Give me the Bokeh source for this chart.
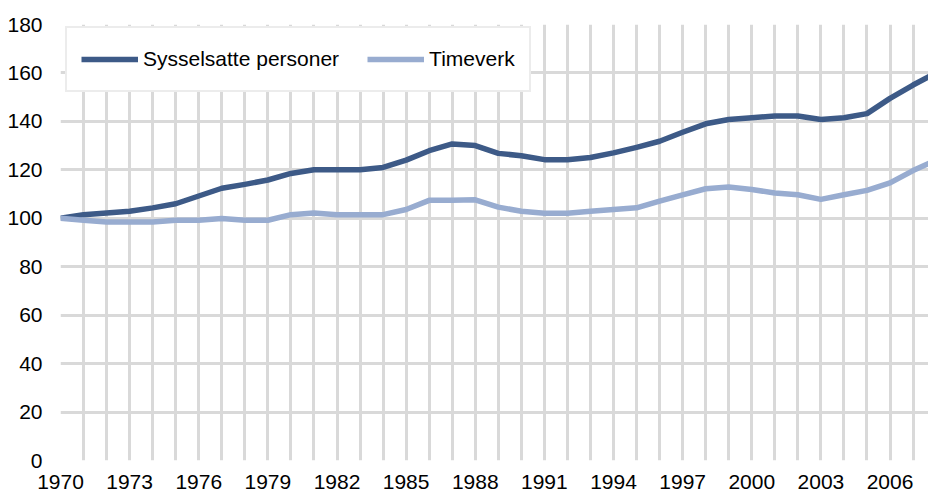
from bokeh.plotting import figure
from bokeh.models import Range1d, SingleIntervalTicker, FixedTicker, Legend, LegendItem
from bokeh.embed import file_html
from bokeh.resources import INLINE

years = list(range(1970, 2009))
sysselsatte = [100, 101.5, 102.2, 102.9, 104.3, 106, 109.2, 112.4, 114, 115.8,
               118.5, 120, 120, 120, 121, 124, 127.9, 130.7, 130, 126.8,
               125.8, 124.2, 124.2, 125.1, 127, 129.3, 131.8, 135.5, 139, 140.8,
               141.5, 142.2, 142.2, 140.8, 141.5, 143.2, 149.5, 155, 160]
timeverk = [100, 99.2, 98.5, 98.5, 98.5, 99.2, 99.2, 99.9, 99.2, 99.2,
            101.5, 102.2, 101.5, 101.5, 101.5, 103.6, 107.4, 107.4, 107.6, 104.6,
            102.9, 102.1, 102.1, 102.9, 103.6, 104.3, 107.1, 109.7, 112.2, 112.9,
            111.9, 110.4, 109.7, 107.8, 109.7, 111.5, 114.6, 119.7, 124]
x_tick_labels = list(range(1970, 2007, 3))
y_ticks = list(range(0, 181, 20))

FONT = "Liberation Sans"
GRID = "#d9d9d9"

p = figure(width=928, height=493, output_backend="svg", toolbar_location=None,
           x_range=Range1d(1970, 2007.67), y_range=Range1d(0, 180),
           min_border_left=60, min_border_right=0, min_border_top=24, min_border_bottom=33)
p.outline_line_color = None
p.background_fill_color = "white"

p.xgrid.ticker = SingleIntervalTicker(interval=1)
p.ygrid.ticker = FixedTicker(ticks=y_ticks)
for g in (p.xgrid, p.ygrid):
    g.grid_line_color = GRID
    g.grid_line_width = 3

p.xaxis.ticker = FixedTicker(ticks=x_tick_labels)
p.yaxis.ticker = FixedTicker(ticks=y_ticks)
for ax in (p.xaxis, p.yaxis):
    ax.axis_line_color = None
    ax.major_tick_line_color = None
    ax.minor_tick_line_color = None
    ax.major_tick_out = 0
    ax.major_tick_in = 0
    ax.major_label_text_font = FONT
    ax.major_label_text_font_size = "21px"
    ax.major_label_text_color = "#000000"
p.yaxis.major_label_standoff = 18
p.xaxis.major_label_standoff = 14

r1 = p.line(years, sysselsatte, line_color="#3d5a87", line_width=5.5, line_join="round")
r2 = p.line(years, timeverk, line_color="#98acd0", line_width=5.5, line_join="round")

legend = Legend(items=[LegendItem(label="Sysselsatte personer", renderers=[r1]),
                       LegendItem(label="Timeverk", renderers=[r2])],
                orientation="horizontal", location=(5, 368))
legend.margin = 0
legend.padding = 14
legend.spacing = 28
legend.glyph_width = 57
legend.label_height = 34
legend.label_standoff = 5
legend.label_text_font = FONT
legend.label_text_font_size = "21px"
legend.label_text_color = "#000000"
legend.border_line_color = GRID
legend.border_line_width = 2
legend.background_fill_color = "white"
legend.background_fill_alpha = 1
p.add_layout(legend, "center")

open("out.html", "w").write(file_html(p, INLINE))
